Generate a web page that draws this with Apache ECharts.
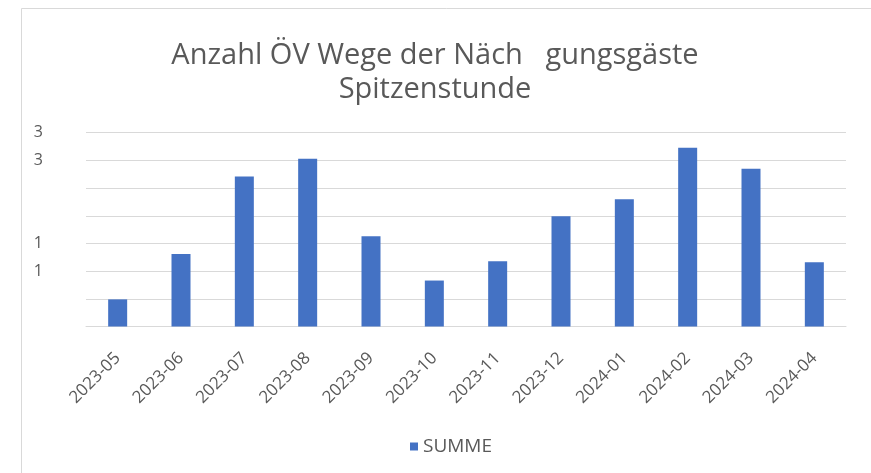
<!DOCTYPE html>
<html>
<head>
<meta charset="utf-8">
<script src="https://cdn.jsdelivr.net/npm/echarts@6/dist/echarts.min.js"></script>
<style>
  html, body { margin: 0; padding: 0; background: #fff; }
  #chart { width: 871px; height: 473px; }
</style>
</head>
<body>
<div id="chart"></div>
<script>
// monthly categories
const months = ["2023-05", "2023-06", "2023-07", "2023-08", "2023-09", "2023-10",
  "2023-11", "2023-12", "2024-01", "2024-02", "2024-03", "2024-04"];
// SUMME values
const summe = [0.49, 1.31, 2.71, 3.03, 1.63, 0.83, 1.18, 1.99, 2.30, 3.23, 2.85, 1.16];
// y tick labels as printed in the source (rounded, some blank)
const yTickValues = [0, 0.5, 1, 1.5, 2, 2.5, 3, 3.5];
const yTickLabels = ["", "", "1", "1", "", "", "3", "3"];

const textColor = "#595959";
const fontFam = "'Open Sans', Lato, sans-serif";

const chart = echarts.init(document.getElementById("chart"), null, { renderer: "canvas" });

chart.setOption({
  backgroundColor: "#fff",
  animation: false,
  graphic: [
    {
      type: "rect",
      left: 19,
      top: 6,
      shape: { width: 900, height: 500 },
      style: { fill: "none", stroke: "#d9d9d9", lineWidth: 1 },
      silent: true,
    },
  ],
  title: {
    text: "Anzahl ÖV Wege der Näch   gungsgäste\nSpitzenstunde",
    left: 430,
    textAlign: "center",
    top: 34,
    textStyle: {
      color: textColor,
      fontFamily: fontFam,
      fontWeight: "normal",
      fontSize: 29,
      lineHeight: 34,
    },
  },
  legend: {
    left: 405,
    top: 432,
    icon: "rect",
    itemWidth: 8,
    itemHeight: 8,
    itemGap: 6,
    textStyle: { color: textColor, fontFamily: fontFam, fontSize: 19 },
    data: ["SUMME"],
  },
  grid: {
    left: 86,
    right: 25,
    top: 132.7,
    bottom: 146.5,
  },
  xAxis: {
    type: "category",
    data: months,
    axisLine: { lineStyle: { color: "#d9d9d9" } },
    axisTick: { show: false },
    axisLabel: {
      rotate: 45,
      interval: 0,
      margin: 29,
      color: textColor,
      fontFamily: fontFam,
      fontSize: 17,
    },
  },
  yAxis: {
    type: "value",
    min: 0,
    max: 3.5,
    interval: 0.5,
    offset: 35,
    axisLine: { show: false },
    axisTick: { show: false },
    splitLine: { lineStyle: { color: "#d9d9d9", width: 1 } },
    axisLabel: {
      margin: 8,
      color: textColor,
      fontFamily: fontFam,
      fontSize: 16,
      formatter: function (v) {
        const i = yTickValues.findIndex((t) => Math.abs(t - v) < 1e-6);
        return i >= 0 ? yTickLabels[i] : "";
      },
    },
  },
  series: [
    {
      name: "SUMME",
      type: "bar",
      data: summe,
      barWidth: 19,
      itemStyle: { color: "#4472C4" },
    },
  ],
});
</script>
</body>
</html>
